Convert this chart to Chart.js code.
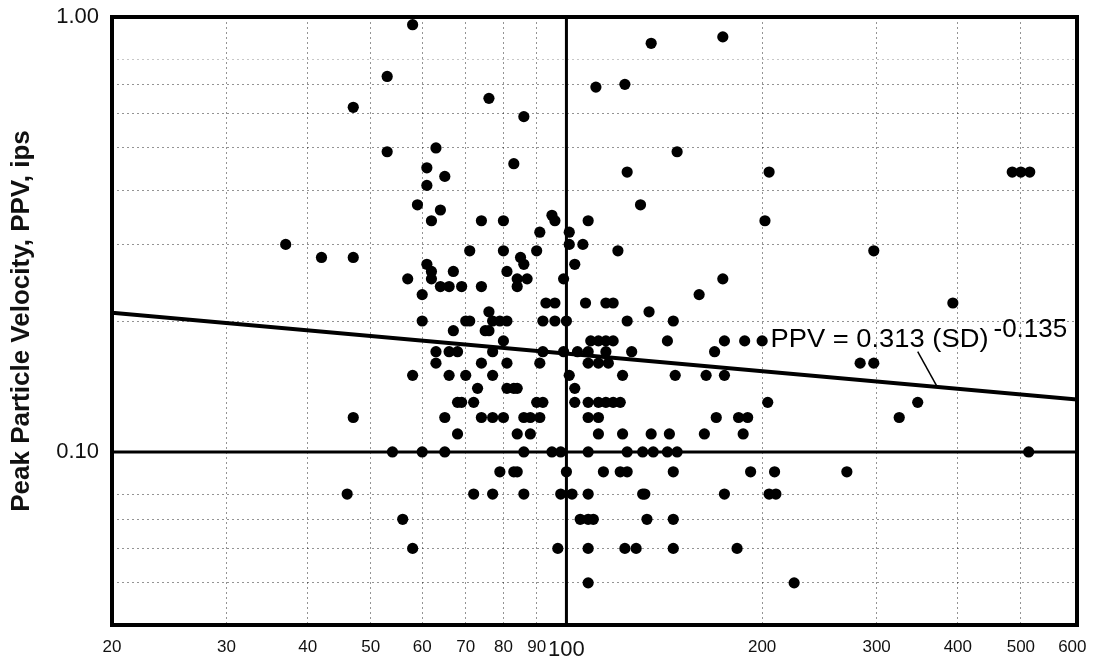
<!DOCTYPE html>
<html>
<head>
<meta charset="utf-8">
<script src="https://cdn.jsdelivr.net/npm/chart.js@4.4.3/dist/chart.umd.min.js"></script>
<style>
  html, body { margin: 0; padding: 0; background: #fff; }
  #wrap { width: 1093px; height: 663px; }
</style>
</head>
<body>
<div id="wrap"><canvas id="ppvChart"></canvas></div>
<script>
const ppvLevels = [0.96, 0.90, 0.87, 0.73, 0.70, 0.69, 0.65, 0.62, 0.59, 0.50, 0.49, 0.46, 0.45, 0.44, 0.43, 0.41, 0.37, 0.36, 0.35, 0.34, 0.32, 0.30, 0.29, 0.28, 0.27, 0.26, 0.25, 0.24, 0.23, 0.22, 0.21, 0.20, 0.19, 0.18, 0.17, 0.16, 0.15, 0.14, 0.13, 0.12, 0.11, 0.10, 0.09, 0.08, 0.07, 0.06, 0.05];
const sdByLevel = [
  [58], [174], [135], [53], [123], [111], [76], [47], [86], [63],
  [53, 148],
  [83],
  [61],
  [124, 205, 485, 500, 516],
  [65],
  [61],
  [59, 130],
  [64],
  [95],
  [62, 74, 80, 96, 108, 202],
  [91, 101],
  [37, 101, 106],
  [71, 80, 90, 120, 297],
  [42, 47, 85],
  [61, 86, 103],
  [62, 67, 81],
  [57, 62, 84, 87, 99, 174],
  [64, 66, 69, 74, 84],
  [60, 160],
  [93, 96, 107, 115, 118, 393],
  [76, 134],
  [60, 70, 71, 77, 79, 81, 92, 96, 100, 124, 146],
  [67, 75, 76],
  [80, 109, 112, 115, 118, 143, 175, 188, 200],
  [63, 66, 68, 77, 92, 99, 104, 108, 115, 126, 169],
  [63, 74, 81, 91, 108, 112, 116, 283, 297],
  [58, 66, 70, 77, 101, 122, 147, 164, 175],
  [73, 81, 83, 84, 103],
  [68, 69, 72, 90, 92, 103, 108, 112, 115, 118, 121, 204, 347],
  [47, 65, 74, 77, 80, 86, 88, 91, 108, 112, 170, 184, 190, 325],
  [68, 84, 88, 112, 122, 135, 144, 163, 187],
  [54, 60, 65, 86, 95, 98, 108, 124, 131, 136, 143, 148, 514],
  [79, 83, 84, 100, 114, 121, 124, 146, 192, 209, 270],
  [46, 72, 77, 86, 98, 102, 108, 131, 132, 175, 205, 210],
  [56, 105, 108, 110, 133, 146],
  [58, 97, 108, 123, 128, 146, 183],
  [108, 224]
];

// fitted line PPV = 0.313 (SD)^-0.135, end points read at the frame
const trendSD = [20, 610];
const trendPPV = [0.209, 0.132];
// leader line from the equation to the fitted line
const leaderSD = [347, 372];
const leaderPPV = [0.170, 0.141];
const equationAt = [206, 0.174];

const xTicks = [20, 30, 40, 50, 60, 70, 80, 90, 100, 200, 300, 400, 500, 600];
const yTicks = [0.05, 0.06, 0.07, 0.08, 0.09, 0.1, 0.2, 0.3, 0.4, 0.5, 0.6, 0.7, 0.8, 0.9, 1];
const yTickLabels = { 1: '1.00', 0.1: '0.10' };

const points = [];
ppvLevels.forEach((level, i) => {
    sdByLevel[i].forEach(sd => points.push({ x: sd, y: level }));
});

const FONT = '"Liberation Sans", Arial, sans-serif';
const hiddenY = [0.1, 0.9, 0.09, 1];

const framePlugin = {
    id: 'frame',
    beforeDatasetsDraw(chart) {
        const { ctx, chartArea: a, scales: { x, y } } = chart;
        const y01 = y.getPixelForValue(0.1);
        const x100 = x.getPixelForValue(100);
        ctx.save();
        ctx.strokeStyle = '#000';
        ctx.lineWidth = 3;
        ctx.beginPath();
        ctx.moveTo(a.left, y01);
        ctx.lineTo(a.right, y01);
        ctx.moveTo(x100, a.top);
        ctx.lineTo(x100, a.bottom);
        ctx.stroke();
        ctx.restore();
    },
    afterDatasetsDraw(chart) {
        const { ctx, chartArea: a, scales: { x, y } } = chart;
        ctx.save();
        ctx.strokeStyle = '#000';
        ctx.lineWidth = 4;
        ctx.strokeRect(a.left, a.top, a.right - a.left, a.bottom - a.top);

        const tx = x.getPixelForValue(equationAt[0]);
        const ty = y.getPixelForValue(equationAt[1]);
        const main = 'PPV = 0.313 (SD)';
        ctx.fillStyle = '#000';
        ctx.textBaseline = 'alphabetic';
        ctx.font = '26px ' + FONT;
        const w = ctx.measureText(main).width;
        const target = 218;
        ctx.save();
        ctx.translate(tx, ty);
        ctx.scale(target / w, 1);
        ctx.fillText(main, 0, 0);
        ctx.restore();
        ctx.fillText('-0.135', tx + target + 5, ty - 10);
        ctx.restore();
    }
};

new Chart(document.getElementById('ppvChart'), {
    type: 'scatter',
    data: {
        datasets: [
            {
                label: 'PPV',
                data: points,
                pointRadius: 5.6,
                pointBackgroundColor: '#000',
                pointBorderWidth: 0
            },
            {
                type: 'line',
                label: 'fit',
                data: trendSD.map((v, i) => ({ x: v, y: trendPPV[i] })),
                borderColor: '#000',
                borderWidth: 4,
                pointRadius: 0,
                fill: false
            },
            {
                type: 'line',
                label: 'leader',
                data: leaderSD.map((v, i) => ({ x: v, y: leaderPPV[i] })),
                borderColor: '#000',
                borderWidth: 1.5,
                pointRadius: 0,
                fill: false
            }
        ]
    },
    options: {
        responsive: true,
        maintainAspectRatio: false,
        animation: false,
        events: [],
        layout: { padding: { left: 0, right: 16, top: 17, bottom: 0 } },
        plugins: { legend: { display: false }, tooltip: { enabled: false } },
        scales: {
            x: {
                type: 'logarithmic',
                min: 20,
                max: 610,
                afterBuildTicks: scale => { scale.ticks = xTicks.map(v => ({ value: v })); },
                afterFit: scale => {
                    scale.height = 38;
                    scale.paddingLeft = 0;
                    scale.paddingRight = 0;
                },
                grid: {
                    drawTicks: false,
                    lineWidth: 1,
                    color: c => (c.tick && [20, 100, 600].includes(c.tick.value)) ? 'rgba(0,0,0,0)' : 'rgba(0,0,0,0.42)'
                },
                border: { display: false, dash: [2, 3] },
                ticks: {
                    autoSkip: false,
                    maxRotation: 0,
                    padding: 12,
                    color: '#111',
                    font: c => ({ family: FONT, size: (c.tick && c.tick.value === 100) ? 22 : 17 }),
                    callback: v => String(v)
                }
            },
            y: {
                type: 'logarithmic',
                min: 0.04,
                max: 1,
                afterBuildTicks: scale => { scale.ticks = yTicks.map(v => ({ value: v })); },
                afterFit: scale => {
                    scale.width = 112;
                    scale.paddingTop = 0;
                    scale.paddingBottom = 0;
                },
                grid: {
                    drawTicks: false,
                    lineWidth: 1,
                    color: c => (c.tick && hiddenY.includes(c.tick.value)) ? 'rgba(0,0,0,0)' : (c.tick && c.tick.value === 0.8 ? 'rgba(0,0,0,0.22)' : 'rgba(0,0,0,0.42)')
                },
                border: { display: false, dash: [2, 3] },
                ticks: {
                    padding: 13,
                    color: '#111',
                    font: { family: FONT, size: 22 },
                    callback: v => yTickLabels[v] || ''
                },
                title: {
                    display: true,
                    text: 'Peak Particle Velocity, PPV, ips',
                    color: '#111',
                    font: { family: FONT, size: 26, weight: 'bold' },
                    padding: { top: 6, bottom: 0 }
                }
            }
        }
    },
    plugins: [framePlugin]
});
</script>
</body>
</html>
